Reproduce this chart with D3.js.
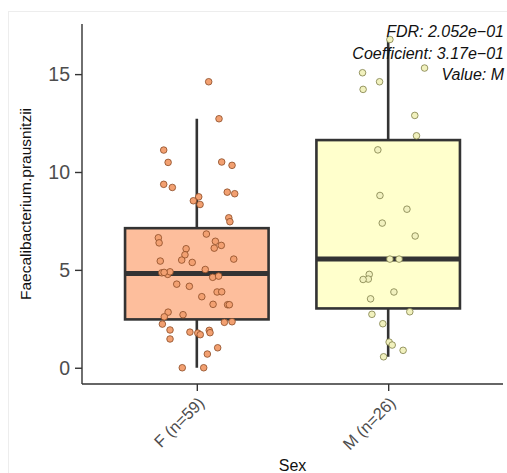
<!DOCTYPE html>
<html>
<head>
<meta charset="utf-8">
<script src="https://cdn.jsdelivr.net/npm/d3@7"></script>
<style>
  html, body { margin: 0; padding: 0; background: #fff; }
  svg { display: block; font-family: "Liberation Sans", Arial, Helvetica, sans-serif; }
</style>
</head>
<body>
<svg id="chart" width="507" height="473"></svg>
<script>
// ---- data ----
const categories = ["F", "M"];
const tickLabels = ["F (n=59)", "M (n=26)"];
const yTicks = [0, 5, 10, 15];
const boxFill = ["#FDBE9C", "#FFFFCC"];
const pointFill = ["#F2A071", "#F1F1BE"];
const pointStroke = ["#8A4A25", "#7E7E48"];

// box statistics: lower whisker, Q1, median, Q3, upper whisker
const boxLower  = [0.00, 0.56];
const boxQ1     = [2.47, 3.03];
const boxMedian = [4.82, 5.55];
const boxQ3     = [7.13, 11.63];
const boxUpper  = [12.72, 16.77];

// jittered points: values and horizontal jitter (fraction of category step)
const valuesF = [14.61, 12.72, 11.12, 10.49, 10.51, 10.34, 9.37, 9.21, 8.73, 8.53, 8.34, 8.97, 8.89,
  7.66, 7.46, 6.83, 6.64, 6.38, 6.46, 6.25, 6.11, 6.08, 5.77, 5.50, 5.45, 5.38, 5.55, 5.02,
  4.85, 4.77, 4.90, 4.62, 4.68, 4.27, 4.16, 3.63, 3.87, 3.88, 3.24, 3.22, 3.22, 2.84, 2.60,
  2.71, 2.23, 2.32, 2.35, 1.93, 1.47, 1.82, 1.77, 1.69, 1.91, 1.79, 1.02, 0.70, 0.00, 0.00, 4.87];
const jitterF = [0.062, 0.116, -0.173, -0.150, 0.130, 0.184, -0.173, -0.128, 0.010, -0.018, 0.017, 0.159, 0.198,
  0.167, 0.173, 0.050, -0.201, -0.197, 0.097, 0.128, 0.091, -0.056, -0.062, -0.079, -0.191, -0.024, 0.193, 0.044,
  -0.183, -0.152, -0.140, 0.083, 0.114, -0.105, -0.039, 0.026, 0.106, 0.130, 0.085, 0.161, 0.170, -0.150, -0.170,
  -0.072, -0.180, 0.144, 0.184, -0.140, -0.140, -0.036, 0.005, 0.018, 0.065, 0.069, 0.109, 0.055, -0.076, 0.036, -0.171];
const valuesM = [16.77, 15.07, 14.61, 14.22, 15.31, 12.89, 11.85, 11.13, 8.80, 8.10, 7.39, 6.73, 5.55,
  5.55, 4.77, 4.53, 4.51, 3.87, 3.52, 2.73, 2.86, 2.25, 1.31, 1.16, 0.89, 0.56];
const jitterM = [0.009, -0.134, -0.045, -0.131, 0.190, 0.139, 0.148, -0.054, -0.043, 0.098, -0.031, 0.141, 0.009,
  0.057, -0.099, -0.104, -0.131, 0.030, -0.092, -0.085, 0.113, -0.028, 0.005, 0.021, 0.078, -0.024];

const annotation = ["FDR: 2.052e\u221201", "Coefficient: 3.17e\u221201", "Value: M"];
const xTitle = "Sex";
const yTitle = "Faecalibacterium.prausnitzii";

// ---- layout ----
const svg = d3.select("#chart");
const L = 82, R = 503, T = 24, B = 384;

// faint outer frame
svg.append("rect").attr("x", 8.5).attr("y", 11.5).attr("width", 520).attr("height", 520)
  .attr("fill", "none").attr("stroke", "#ededed").attr("stroke-width", 1);

const x = d3.scalePoint().domain(categories).range([L, R]).padding(0.6);
const step = x.step();
const y = d3.scaleLinear().domain([-0.83, 17.56]).range([B, T]);
const bw = step * 0.75;

// boxes
const boxes = categories.map((c, i) => ({ c, i, lo: boxLower[i], q1: boxQ1[i], med: boxMedian[i], q3: boxQ3[i], hi: boxUpper[i] }));
const gBox = svg.append("g");
gBox.selectAll("line.wh-up").data(boxes).join("line")
  .attr("x1", d => x(d.c)).attr("x2", d => x(d.c))
  .attr("y1", d => y(d.q3)).attr("y2", d => y(d.hi))
  .attr("stroke", "#333").attr("stroke-width", 2.6);
gBox.selectAll("line.wh-lo").data(boxes).join("line")
  .attr("x1", d => x(d.c)).attr("x2", d => x(d.c))
  .attr("y1", d => y(d.q1)).attr("y2", d => y(d.lo))
  .attr("stroke", "#333").attr("stroke-width", 2.6);
gBox.selectAll("rect.box").data(boxes).join("rect")
  .attr("x", d => x(d.c) - bw / 2).attr("width", bw)
  .attr("y", d => y(d.q3)).attr("height", d => y(d.q1) - y(d.q3))
  .attr("fill", d => boxFill[d.i]).attr("stroke", "#333").attr("stroke-width", 2.6);
gBox.selectAll("line.med").data(boxes).join("line")
  .attr("x1", d => x(d.c) - bw / 2).attr("x2", d => x(d.c) + bw / 2)
  .attr("y1", d => y(d.med)).attr("y2", d => y(d.med))
  .attr("stroke", "#333").attr("stroke-width", 5);

// points
const pts = [];
valuesF.forEach((v, k) => pts.push({ i: 0, c: "F", v, j: jitterF[k] }));
valuesM.forEach((v, k) => pts.push({ i: 1, c: "M", v, j: jitterM[k] }));
svg.append("g").selectAll("circle").data(pts).join("circle")
  .attr("cx", d => x(d.c) + d.j * step)
  .attr("cy", d => y(d.v))
  .attr("r", 3.3)
  .attr("fill", d => pointFill[d.i])
  .attr("stroke", d => pointStroke[d.i])
  .attr("stroke-width", 0.8);

// y axis
const yAxis = svg.append("g").attr("transform", `translate(${L},0)`)
  .call(d3.axisLeft(y).tickValues(yTicks).tickSize(7).tickPadding(5).tickFormat(d3.format("d")));
yAxis.select(".domain").attr("d", `M0,${T}V${B}`).attr("stroke", "#333").attr("stroke-width", 1.4);
yAxis.selectAll(".tick line").attr("stroke", "#333").attr("stroke-width", 1.4);
yAxis.selectAll(".tick text").attr("fill", "#4d4d4d").attr("font-size", 19.5)
  .attr("font-family", "Liberation Sans, Arial, sans-serif");

// x axis
const xAxis = svg.append("g").attr("transform", `translate(0,${B})`)
  .call(d3.axisBottom(x).tickSize(7).tickFormat((d, i) => tickLabels[i]));
xAxis.select(".domain").attr("d", `M${L},0H${R}`).attr("stroke", "#333").attr("stroke-width", 1.4);
xAxis.selectAll(".tick line").attr("stroke", "#333").attr("stroke-width", 1.4);
xAxis.selectAll(".tick text")
  .attr("fill", "#4d4d4d").attr("font-size", 16.5)
  .attr("font-family", "Liberation Sans, Arial, sans-serif")
  .attr("text-anchor", "end")
  .attr("dy", null).attr("y", 0)
  .attr("transform", "translate(8,20) rotate(-45)");

// titles
svg.append("text").attr("x", (L + R) / 2).attr("y", 471).attr("text-anchor", "middle")
  .attr("font-size", 16).attr("fill", "#111").text(xTitle);
svg.append("text").attr("transform", `translate(31,${(T + B) / 2}) rotate(-90)`)
  .attr("text-anchor", "middle").attr("font-size", 15.5).attr("fill", "#111").text(yTitle);

// annotation
svg.append("g").selectAll("text").data(annotation).join("text")
  .attr("x", 504).attr("y", (d, i) => 37 + i * 21.5)
  .attr("text-anchor", "end").attr("font-style", "italic").attr("font-size", 16)
  .attr("fill", "#111").text(d => d);
</script>
</body>
</html>
